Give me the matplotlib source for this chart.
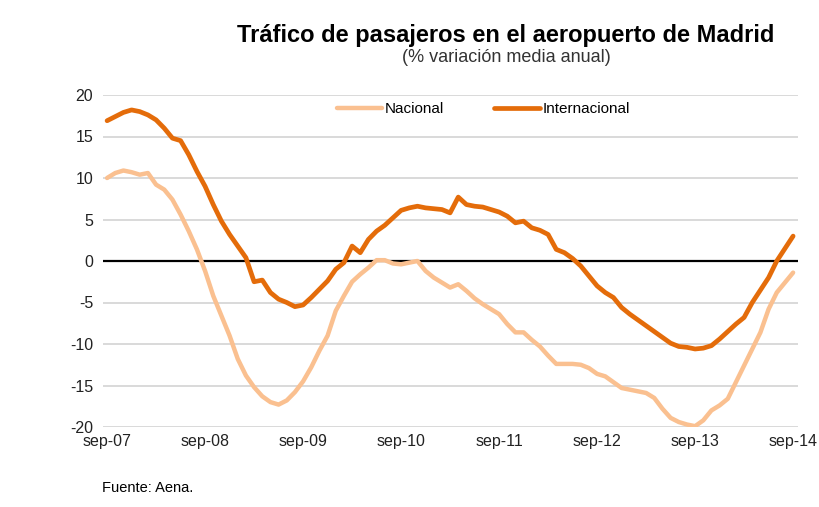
import matplotlib
matplotlib.use("Agg")
import matplotlib.pyplot as plt
import numpy as np

plt.rcParams['font.family'] = ['Liberation Sans', 'DejaVu Sans']
plt.rcParams['axes.unicode_minus'] = False

tick_labels = ["sep-07", "sep-08", "sep-09", "sep-10", "sep-11", "sep-12", "sep-13", "sep-14"]

internacional = [
    16.9, 17.4, 17.9, 18.2, 18.0, 17.6, 17.0, 16.0, 14.8, 14.5,
    12.8, 10.8, 9.0, 6.8, 4.8, 3.2, 1.8, 0.4, -2.5, -2.3,
    -3.8, -4.6, -5.0, -5.5, -5.3, -4.4, -3.4, -2.4, -1.0, -0.2,
    1.8, 1.0, 2.6, 3.6, 4.3, 5.2, 6.1, 6.4, 6.6, 6.4,
    6.3, 6.2, 5.8, 7.7, 6.8, 6.6, 6.5, 6.2, 5.9, 5.4,
    4.6, 4.8, 4.0, 3.7, 3.2, 1.4, 1.0, 0.3, -0.6, -1.8,
    -3.0, -3.8, -4.4, -5.6, -6.4, -7.1, -7.8, -8.5, -9.2, -9.9,
    -10.3, -10.4, -10.6, -10.5, -10.2, -9.4, -8.5, -7.6, -6.8, -5.0,
    -3.5, -2.0, 0.0, 1.5, 3.0,
]

nacional = [
    10.0, 10.6, 10.9, 10.7, 10.4, 10.6, 9.2, 8.6, 7.4, 5.6,
    3.6, 1.4, -1.2, -4.2, -6.6, -9.0, -11.8, -13.8, -15.2, -16.3,
    -17.0, -17.3, -16.8, -15.8, -14.5, -12.8, -10.8, -9.0, -6.0, -4.2,
    -2.5, -1.6, -0.8, 0.1, 0.1, -0.3, -0.4, -0.2, 0.0, -1.2,
    -2.0, -2.6, -3.2, -2.8, -3.6, -4.5, -5.2, -5.8, -6.4, -7.6,
    -8.6, -8.6, -9.5, -10.3, -11.4, -12.4, -12.4, -12.4, -12.5, -12.9,
    -13.6, -13.9, -14.6, -15.3, -15.5, -15.7, -15.9, -16.5, -17.8, -18.9,
    -19.4, -19.7, -19.9, -19.2, -18.0, -17.4, -16.6, -14.6, -12.6, -10.6,
    -8.6, -5.8, -3.8, -2.6, -1.4,
]

months = np.arange(len(internacional))

fig = plt.figure(figsize=(8.2, 5.07), dpi=100)
ax = fig.add_axes([103/820, 1-427/507, (798-103)/820, (427-95)/507])

for v in range(-20, 25, 5):
    if v != 0:
        ax.axhline(v, color='#D9D9D9', lw=1.4, zorder=0)
ax.axhline(0, color='black', lw=1.6, zorder=1)

ax.plot(months, nacional, color='#FAC090', lw=3.2, label='Nacional',
        solid_capstyle='round', zorder=2)
ax.plot(months, internacional, color='#E46C0A', lw=3.4, label='Internacional',
        solid_capstyle='round', zorder=3)

ax.set_xlim(-0.5, 84.6)
ax.set_ylim(-20, 20)
ax.set_yticks(range(-20, 25, 5))
ax.set_xticks(np.arange(0, 85, 12))
ax.set_xticklabels(tick_labels)
for s in ax.spines.values():
    s.set_visible(False)
ax.tick_params(axis='both', length=0, labelsize=11.5, colors='#222222')
ax.tick_params(axis='y', pad=7)
ax.tick_params(axis='x', pad=5)

leg = ax.legend(loc='upper center', bbox_to_anchor=(0.547, 1.02), ncol=2,
                frameon=False, fontsize=11, handlelength=3.0,
                handletextpad=0.15, columnspacing=3.3)

fig.text(0.617, 0.93, "Tráfico de pasajeros en el aeropuerto de Madrid",
         ha='center', va='center', fontsize=17, fontweight='bold', color='black')
fig.text(0.617, 0.887, "(% variación media anual)", ha='center', va='center',
         fontsize=13, color='#333333')
fig.text(102/820, 1-488/507, "Fuente: Aena.", ha='left', va='center',
         fontsize=10.5, color='black')

fig.savefig("out.png", dpi=100)
